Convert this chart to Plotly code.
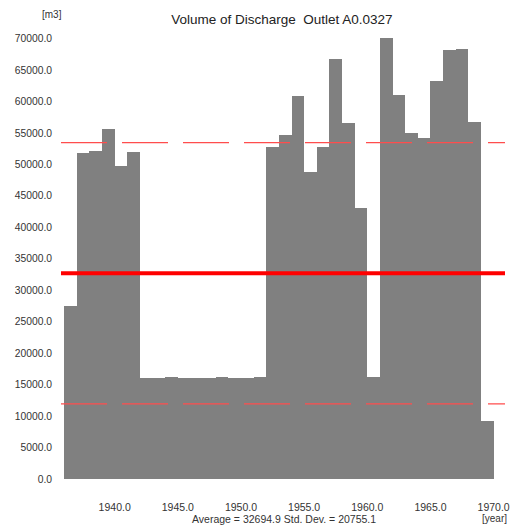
import plotly.graph_objects as go

years = list(range(1936, 1970))
volumes = [27570, 51800, 52070, 55680, 49790, 51910,
           16100, 16100, 16250, 16100, 16100, 16100, 16250, 16100, 16100, 16250,
           52800, 54700, 60900, 48800, 52700, 66800, 56600, 43100,
           16270, 70160, 61100, 55000, 54200, 63300, 68200, 68400, 56750, 9230]
average = 32694.9
std_dev = 20755.1
y_ticks = [0, 5000, 10000, 15000, 20000, 25000, 30000, 35000, 40000, 45000,
           50000, 55000, 60000, 65000, 70000]
x_ticks = [1940, 1945, 1950, 1955, 1960, 1965, 1970]

FONT = "Liberation Sans, Arial, sans-serif"

fig = go.Figure()
fig.add_trace(go.Bar(x=years, y=volumes, width=1, offset=0,
                     marker=dict(color="#808080", line=dict(width=0)),
                     showlegend=False, hoverinfo="x+y"))

# mean and mean +/- std lines
fig.add_shape(type="line", xref="paper", x0=0, x1=1, yref="y",
              y0=average, y1=average, line=dict(color="#ff0000", width=4))
for v in (average + std_dev, average - std_dev):
    fig.add_shape(type="line", xref="paper", x0=0, x1=1, yref="y", y0=v, y1=v,
                  line=dict(color="#ff4d4d", width=1.2, dash="46px,15px"))

# page body has an 8px default margin; figure sized to fit the window
fig.update_layout(
    width=510, height=518,
    margin=dict(l=53, r=13, t=18, b=47, autoexpand=False),
    paper_bgcolor="white", plot_bgcolor="white",
    bargap=0,
    font=dict(family=FONT, size=11, color="#333333"),
    title=dict(text="Volume of Discharge  Outlet A0.0327", x=0.537, xanchor="center",
               y=0.979, yanchor="middle",
               font=dict(family=FONT, size=13.5, color="#222222")),
    xaxis=dict(range=[1935.75, 1970.9], tickvals=x_ticks, tickformat=".1f",
               showgrid=False, zeroline=False, showline=False, ticks="",
               automargin=False,
               ticklabelstandoff=20, tickfont=dict(size=10.5, color="#333333")),
    yaxis=dict(range=[0, 72000], tickvals=y_ticks, tickformat=".1f",
               showgrid=False, zeroline=False, showline=False, ticks="",
               automargin=False,
               ticklabelstandoff=8, tickfont=dict(size=10.3, color="#333333")),
    annotations=[
        dict(text="[m3]", xref="paper", yref="paper", x=-0.02, y=1.0,
             xanchor="center", yanchor="bottom", yshift=4, showarrow=False,
             font=dict(size=10, color="#333333")),
        dict(text="[year]", xref="paper", yref="paper", x=1.0, y=0,
             xanchor="right", yanchor="top", xshift=4, yshift=-32, showarrow=False,
             font=dict(size=10, color="#333333")),
        dict(text="Average = %.1f Std. Dev. = %.1f" % (average, std_dev),
             xref="paper", yref="paper", x=0.5, y=0, xanchor="center",
             yanchor="top", xshift=1, yshift=-32, showarrow=False,
             font=dict(size=10.5, color="#333333")),
    ],
)

fig.write_html("out.html")
